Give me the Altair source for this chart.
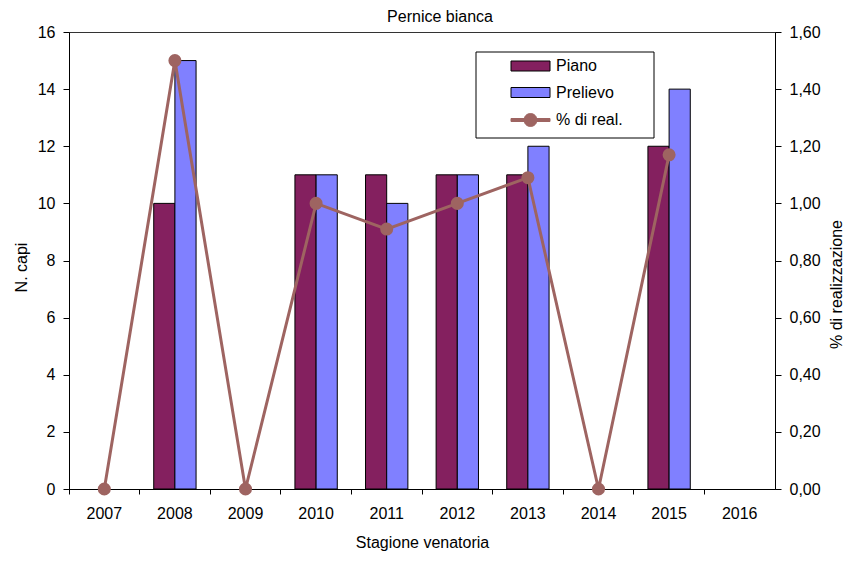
import altair as alt
import pandas as pd

years = ["2007", "2008", "2009", "2010", "2011", "2012", "2013", "2014", "2015", "2016"]
bar_years = ["2008", "2010", "2011", "2012", "2013", "2015"]
piano = [10, 11, 11, 11, 11, 12]
prelievo = [15, 11, 10, 11, 12, 14]
perc_years = ["2007", "2008", "2009", "2010", "2011", "2012", "2013", "2014", "2015"]
perc = [0, 1.5, 0, 1.0, 0.91, 1.0, 1.09, 0, 1.17]
series = ["Piano", "Prelievo", "% di real."]
fill_colors = ["#84205F", "#8080FF", "#9E6461"]
stroke_colors = ["#000000", "#000000", "#9E6461"]
left_ticks = [0, 2, 4, 6, 8, 10, 12, 14, 16]
right_ticks = [0, 0.2, 0.4, 0.6, 0.8, 1.0, 1.2, 1.4, 1.6]

FONT = "Liberation Sans"
LINE_COLOR = fill_colors[2]

bars_df = pd.DataFrame({
    "anno": bar_years * 2,
    "serie": ["Piano"] * len(bar_years) + ["Prelievo"] * len(bar_years),
    "valore": piano + prelievo,
})
line_df = pd.DataFrame({"anno": perc_years, "perc": perc})
legend_df = pd.DataFrame({"serie": series})
frame_df = pd.DataFrame({"k": [0]})

rect_path = "M-3.9,-1H3.9V1H-3.9Z"
line_circle_path = ("M-3.9,-0.3H3.9V0.3H-3.9Z"
                    "M1.3,0A1.3,1.3,0,1,1,-1.3,0A1.3,1.3,0,1,1,1.3,0Z")

x_enc = alt.X(
    "anno:N",
    scale=alt.Scale(domain=years, paddingInner=0, paddingOuter=0),
    axis=alt.Axis(title="Stagione venatoria", labelAngle=0, bandPosition=0,
                  tickSize=5, labelPadding=11, titlePadding=13),
)

bars = alt.Chart(bars_df).mark_bar(stroke="black", strokeWidth=1).encode(
    x=x_enc,
    xOffset=alt.XOffset("serie:N", scale=alt.Scale(domain=series[:2],
                                                    paddingOuter=0.667, paddingInner=0)),
    y=alt.Y("valore:Q", scale=alt.Scale(domain=[0, 16], nice=False),
            axis=alt.Axis(title="N. capi", values=left_ticks, tickSize=6,
                          labelPadding=8, titlePadding=8, titleY=235)),
    color=alt.Color("serie:N", scale=alt.Scale(domain=series[:2], range=fill_colors[:2]),
                    legend=None),
)

y_right = alt.Y(
    "perc:Q", scale=alt.Scale(domain=[0, 1.6], nice=False),
    axis=alt.Axis(title="% di realizzazione", orient="right", values=right_ticks,
                  labelExpr="replace(format(datum.value, '.2f'), '.', ',')",
                  tickSize=6, labelPadding=8, titlePadding=24, titleAngle=270,
                  titleY=252),
)

line = alt.Chart(line_df).mark_line(color=LINE_COLOR, strokeWidth=3).encode(
    x=x_enc, y=y_right
)
points = alt.Chart(line_df).mark_circle(size=170, color=LINE_COLOR, opacity=1).encode(
    x=x_enc, y=y_right
)
right_layer = alt.layer(line, points)


def legend_def():
    return alt.Legend(orient="none", legendX=453.5, legendY=26, title=None, padding=0,
                      symbolSize=100, symbolStrokeWidth=1, labelFontSize=16,
                      labelFont=FONT, labelColor="black", labelOffset=17.5,
                      rowPadding=10.5)


# helper layer carrying the legend; its marks sit hidden under the legend frame
ghost = alt.Chart(legend_df).mark_point(filled=True, strokeWidth=1, opacity=1).encode(
    x=alt.value(450), y=alt.value(60),
    fill=alt.Fill("serie:N", scale=alt.Scale(domain=series, range=fill_colors),
                  legend=legend_def()),
    stroke=alt.Stroke("serie:N", scale=alt.Scale(domain=series, range=stroke_colors),
                      legend=legend_def()),
    shape=alt.Shape("serie:N", scale=alt.Scale(domain=series, range=[rect_path, rect_path, line_circle_path]),
                    legend=legend_def()),
)

frame = alt.Chart(frame_df).mark_rect(fill="white", stroke="black", strokeWidth=1).encode(
    x=alt.value(407), x2=alt.value(585), y=alt.value(20), y2=alt.value(106)
)

chart = alt.layer(bars, right_layer, ghost, frame).resolve_scale(y="independent").properties(
    width=706,
    height=457,
    autosize=alt.AutoSizeParams(type="none"),
    padding={"left": 61, "top": 24, "right": 71, "bottom": 63},
    title=alt.TitleParams("Pernice bianca", fontSize=16, fontWeight="normal", font=FONT,
                          color="black", offset=-1, dx=18, frame="group"),
).configure(
    font=FONT,
).configure_view(
    stroke="#333333", strokeWidth=1,
).configure_axis(
    grid=False, domainColor="black", tickColor="black", labelColor="black",
    titleColor="black", labelFont=FONT, titleFont=FONT, labelFontSize=16,
    titleFontSize=16, titleFontWeight="normal", domainWidth=1, tickWidth=1,
)

chart.save("out.html", embed_options={"renderer": "svg", "actions": False})
